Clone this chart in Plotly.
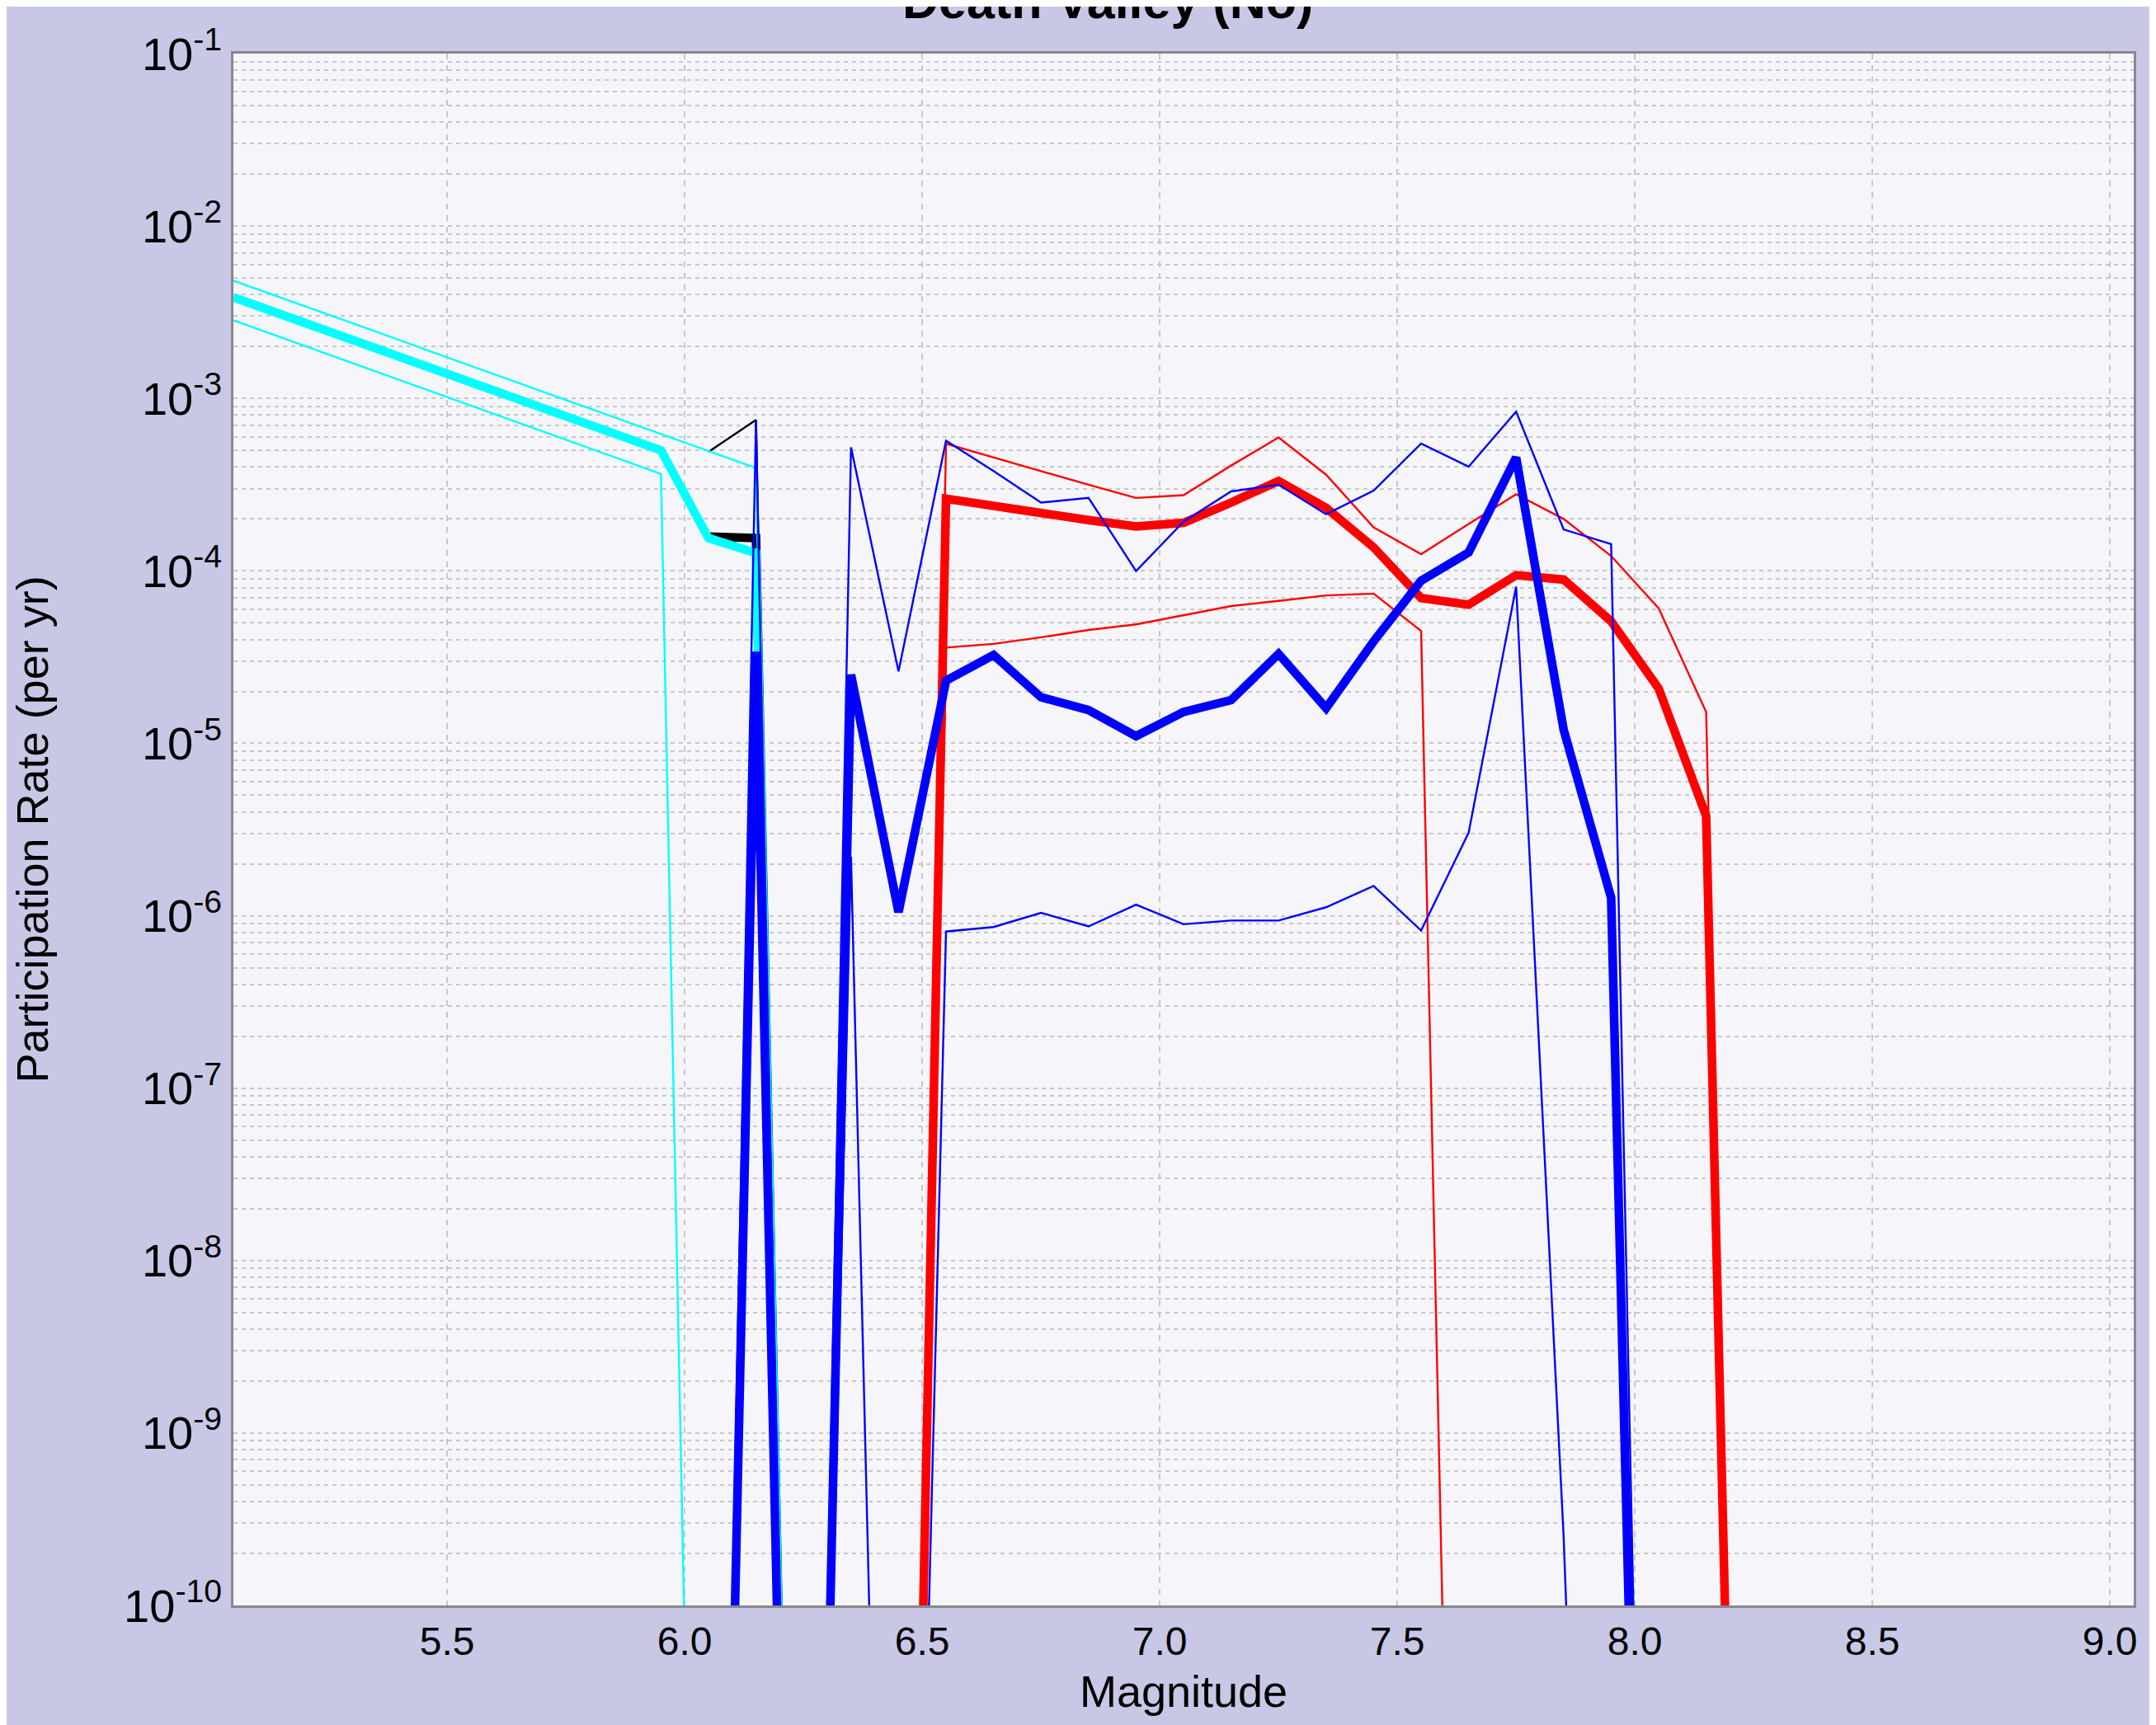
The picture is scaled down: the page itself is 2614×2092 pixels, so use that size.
import plotly.graph_objects as go

# ---------------- data ----------------
MAGS = [5.05, 5.15, 5.25, 5.35, 5.45, 5.55, 5.65, 5.75, 5.85, 5.95,
        6.05, 6.15, 6.25, 6.35, 6.45, 6.55, 6.65, 6.75, 6.85, 6.95,
        7.05, 7.15, 7.25, 7.35, 7.45, 7.55, 7.65, 7.75, 7.85, 7.95,
        8.05, 8.15, 8.25, 8.35, 8.45]

CYAN_MID = [3.86e-3, 3.08e-3, 2.45e-3, 1.95e-3, 1.55e-3, 1.24e-3, 9.85e-4, 7.85e-4, 6.25e-4, 5.0e-4,
            1.55e-4, 1.27e-4] + [0.0] * 23
CYAN_HI = [4.82e-3, 3.85e-3, 3.06e-3, 2.44e-3, 1.94e-3, 1.55e-3, 1.23e-3, 9.8e-4, 7.8e-4, 6.2e-4,
           4.95e-4, 3.95e-4] + [0.0] * 23
CYAN_LO = [2.84e-3, 2.26e-3, 1.80e-3, 1.43e-3, 1.14e-3, 9.05e-4, 7.2e-4, 5.75e-4, 4.58e-4, 3.65e-4] + [0.0] * 25

BLACK_MID = [None] * 10 + [1.58e-4, 1.55e-4] + [0.0] * 23
BLACK_HI = [None] * 10 + [4.9e-4, 7.5e-4] + [0.0] * 23

RED_MID = [0.0] * 15 + [2.62e-4, 2.38e-4, 2.13e-4, 1.97e-4, 1.81e-4, 1.90e-4, 2.49e-4, 3.32e-4, 2.32e-4,
                        1.37e-4, 6.96e-5, 6.37e-5, 9.44e-5, 8.9e-5, 5.1e-5, 2.08e-5, 3.79e-6, 0.0, 0.0, 0.0]
RED_HI = [0.0] * 15 + [5.47e-4, 4.54e-4, 3.79e-4, 3.16e-4, 2.65e-4, 2.75e-4, 4.08e-4, 5.94e-4, 3.61e-4,
                       1.79e-4, 1.25e-4, 1.87e-4, 2.78e-4, 2.0e-4, 1.22e-4, 6.07e-5, 1.52e-5, 0.0, 0.0, 0.0]
RED_LO = [0.0] * 15 + [3.59e-5, 3.77e-5, 4.12e-5, 4.54e-5, 4.89e-5, 5.52e-5, 6.25e-5, 6.7e-5, 7.2e-5,
                       7.38e-5, 4.48e-5] + [0.0] * 9

BLUE_MID = [0.0] * 11 + [3.4e-5, 0.0, 2.5e-5, 1.05e-6, 2.31e-5, 3.25e-5, 1.85e-5, 1.56e-5, 1.10e-5,
                         1.52e-5, 1.78e-5, 3.3e-5, 1.6e-5, 3.9e-5, 8.77e-5, 1.28e-4, 4.54e-4, 1.2e-5,
                         1.27e-6] + [0.0] * 5
BLUE_HI = [0.0] * 11 + [7.5e-4, 0.0, 5.21e-4, 2.61e-5, 5.69e-4, 3.79e-4, 2.49e-4, 2.65e-4, 9.96e-5,
                        1.93e-4, 2.89e-4, 3.16e-4, 2.13e-4, 2.92e-4, 5.47e-4, 4.02e-4, 8.39e-4, 1.74e-4,
                        1.43e-4] + [0.0] * 5
BLUE_LO = [0.0] * 13 + [2.2e-6, 0.0, 8.1e-7, 8.6e-7, 1.04e-6, 8.67e-7, 1.16e-6, 8.93e-7, 9.38e-7,
                        9.38e-7, 1.12e-6, 1.49e-6, 8.2e-7, 3.03e-6, 8.1e-5, 2.5e-10] + [0.0] * 6

X_TICKS = [5.5, 6.0, 6.5, 7.0, 7.5, 8.0, 8.5, 9.0]
Y_EXPONENTS = [-1, -2, -3, -4, -5, -6, -7, -8, -9, -10]

TITLE = "Death Valley (No)"
X_TITLE = "Magnitude"
Y_TITLE = "Participation Rate (per yr)"

# zero rates are drawn at a tiny floor value (far below the axis) like the original renderer
FLOOR = 1e-17


def prep(vals):
    return [None if v is None else (FLOOR if v == 0 else v) for v in vals]


FONT = "Liberation Sans, Arial, sans-serif"
THICK = 10.5
THIN = 2.4

series = [
    (BLACK_MID, "black", THICK), (BLACK_HI, "black", THIN),
    (CYAN_MID, "#00FFFF", THICK), (CYAN_HI, "#00FFFF", THIN), (CYAN_LO, "#00FFFF", THIN),
    (RED_MID, "#FF0000", THICK), (RED_HI, "#FF0000", THIN), (RED_LO, "#FF0000", THIN),
    (BLUE_MID, "#0000FF", THICK), (BLUE_HI, "#0000FF", THIN), (BLUE_LO, "#0000FF", THIN),
]

fig = go.Figure()
for vals, col, w in series:
    fig.add_trace(go.Scatter(x=MAGS, y=prep(vals), mode="lines",
                             line=dict(color=col, width=w), connectgaps=False,
                             showlegend=False, hoverinfo="skip"))

minor_vals = [k * 10.0 ** e for e in range(-10, -1) for k in range(2, 10)]

fig.update_layout(
    width=2614, height=2092,
    margin=dict(l=275, r=35, t=57, b=153, autoexpand=False),
    paper_bgcolor="#C8C8E6",
    plot_bgcolor="#F5F5FA",
    font=dict(family=FONT, color="black"),
    showlegend=False,
    annotations=[dict(text="<b>" + TITLE + "</b>", xref="paper", yref="paper",
                      x=0.46, y=1.0149, xanchor="center", yanchor="bottom",
                      showarrow=False, font=dict(size=61, family=FONT, color="black"))],
)

fig.update_xaxes(
    range=[5.05, 9.05],
    tickmode="array", tickvals=X_TICKS, ticktext=["%.1f" % v for v in X_TICKS],
    tickfont=dict(size=48, family=FONT),
    showgrid=True, gridcolor="#C8C8C8", gridwidth=1.5, griddash="7px,7px",
    showline=True, linecolor="#888888", linewidth=2.5, mirror=True,
    zeroline=False, ticks="",
    title=dict(text=X_TITLE, font=dict(size=54, family=FONT), standoff=16),
)

fig.update_yaxes(
    type="log", range=[-10, -1],
    tickmode="array", tickvals=[10.0 ** e for e in Y_EXPONENTS],
    ticktext=["10<sup>%d</sup>" % e for e in Y_EXPONENTS],
    tickfont=dict(size=56, family=FONT),
    showgrid=True, gridcolor="#C8C8C8", gridwidth=1.5, griddash="5px,5px",
    minor=dict(tickmode="array", tickvals=minor_vals, showgrid=True,
               gridcolor="#C8C8C8", gridwidth=1.5, griddash="5px,5px", ticks=""),
    showline=True, linecolor="#888888", linewidth=2.5, mirror=True,
    zeroline=False, ticks="",
    title=dict(text=Y_TITLE, font=dict(size=54, family=FONT), standoff=75),
)

fig.write_html("out.html")
